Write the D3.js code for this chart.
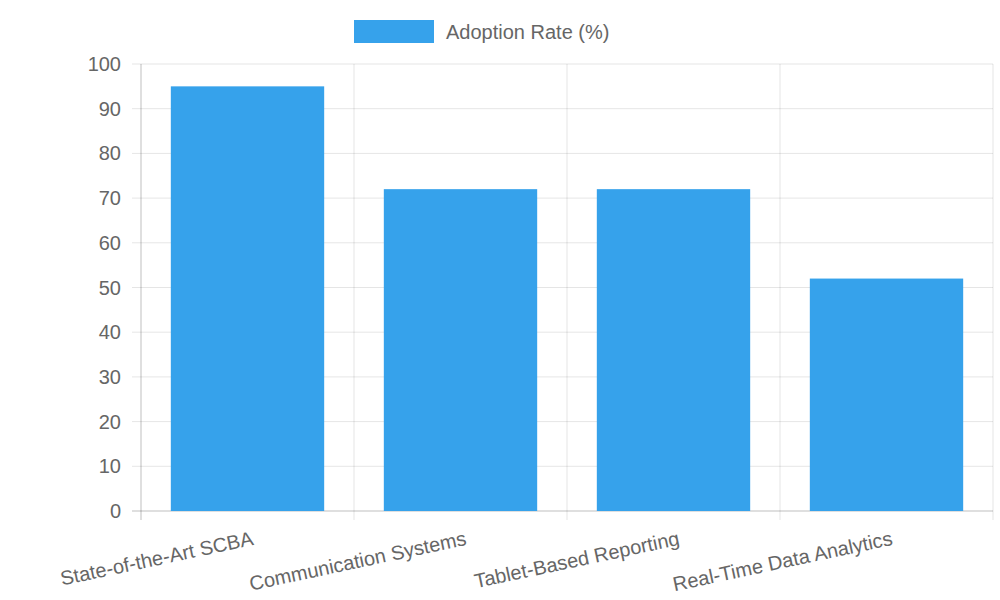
<!DOCTYPE html>
<html><head><meta charset="utf-8">
<script src="https://cdn.jsdelivr.net/npm/d3@7/dist/d3.min.js"></script>
<style>body{margin:0;background:#fff}text{font-family:"Liberation Sans",Arial,sans-serif}</style>
</head><body><svg id="c" width="1000" height="600"></svg>
<script>
const categories = ["State-of-the-Art SCBA","Communication Systems","Tablet-Based Reporting","Real-Time Data Analytics"];
const values = [95,72,72,52];
const seriesName = "Adoption Rate (%)";
const yTicks = [0,10,20,30,40,50,60,70,80,90,100];

const svg = d3.select("#c");
const L=141,R=993,T=64,B=511;
const x = d3.scaleBand().domain(categories).range([L,R]).paddingInner(0.28).paddingOuter(0.14);
const xb = d3.scaleBand().domain(categories).range([L,R]);
const y = d3.scaleLinear().domain([0,100]).range([B,T]);
const grid="rgba(0,0,0,0.1)", txt="#666", col="rgb(54,162,235)";

// horizontal grid
svg.selectAll(".hg").data(yTicks).enter().append("line")
 .attr("x1",L-9).attr("x2",R).attr("y1",d=>y(d)).attr("y2",d=>y(d))
 .attr("stroke",d=>d===0?"rgba(0,0,0,0.25)":grid);
// vertical grid
const vx = categories.map(c=>xb(c)).concat([R]);
svg.selectAll(".vg").data(vx).enter().append("line")
 .attr("x1",d=>d).attr("x2",d=>d).attr("y1",T).attr("y2",B+9)
 .attr("stroke",(d,i)=>i===0?"rgba(0,0,0,0.25)":grid);
// y labels
svg.selectAll(".yl").data(yTicks).enter().append("text")
 .attr("x",L-20).attr("y",d=>y(d)).attr("dy","0.35em").attr("text-anchor","end")
 .attr("font-size",20).attr("fill",txt).text(d=>d);
// bars
svg.selectAll(".b").data(values).enter().append("rect")
 .attr("x",(d,i)=>x(categories[i])).attr("width",x.bandwidth())
 .attr("y",d=>y(d)).attr("height",d=>B-y(d)).attr("fill",col);
// x labels
svg.selectAll(".xl").data(categories).enter().append("text")
 .attr("transform",d=>`translate(${xb(d)+xb.bandwidth()/2+4},${B+20}) rotate(-12)`)
 .attr("text-anchor","end").attr("dy","0.7em").attr("font-size",20).attr("fill",txt).text(d=>d);
// legend
svg.append("rect").attr("x",354).attr("y",20).attr("width",80).attr("height",23).attr("fill",col);
svg.append("text").attr("x",446).attr("y",32).attr("dy","0.35em").attr("font-size",20).attr("fill",txt).text(seriesName);
</script></body></html>
